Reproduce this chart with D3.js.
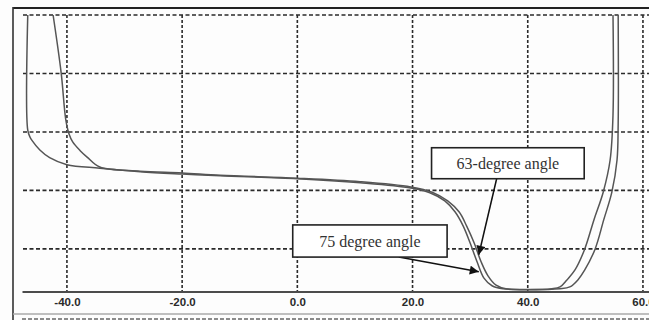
<!DOCTYPE html>
<html>
<head>
<meta charset="utf-8">
<script src="https://cdn.jsdelivr.net/npm/d3@7/dist/d3.min.js"></script>
<style>
  html, body { margin: 0; padding: 0; background: #fff; }
  svg { display: block; }
</style>
</head>
<body>
<svg id="chart" width="649" height="320"></svg>
<script>
// ---- data ----
const xTicks = [-40, -20, 0, 20, 40, 60];
const xTickLabels = ["-40.0", "-20.0", "0.0", "20.0", "40.0", "60.0"];
const yGrid = [0, 10, 20, 30, 40];

// wide curve (outer on both sides)
const wideX = [-46.8, -46.8, -46.4, -46.1, -44.7, -43.0, -40.0, -34.3, -27.3, -20.0, -13.4, 0.0, 10.9, 19.7, 23.0, 25.6, 27.4, 28.8, 30.0, 31.2, 32.4, 33.8, 35.7, 45.6, 47.3, 48.7, 49.9, 51.7, 53.2, 54.6, 55.5, 55.7, 55.7];
const wideY = [40, 20.3, 19.1, 18.6, 16.9, 15.6, 14.4, 13.8, 13.2, 12.8, 12.5, 12.0, 11.3, 10.4, 9.6, 8.2, 6.3, 3.9, 1.0, -2.2, -5.0, -6.3, -6.8, -6.8, -6.5, -5.3, -3.6, 0.0, 5.0, 9.7, 15.2, 21.5, 40];

// narrow curve
const narrowX = [-42.4, -41.0, -40.2, -39.65, -39.0, -37.7, -36.5, -34.3, -27.3, -20.0, -13.4, 0.0, 10.9, 19.7, 23.4, 26.1, 28.1, 29.4, 30.7, 31.9, 33.1, 34.5, 36.2, 44.2, 45.6, 46.8, 48.2, 49.9, 51.5, 53.1, 54.3, 54.8, 54.8];
const narrowY = [40, 30.1, 22.1, 19.7, 18.3, 16.8, 15.7, 14.0, 13.3, 13.0, 12.6, 12.1, 11.5, 10.6, 9.7, 8.2, 6.3, 3.9, 1.0, -2.2, -4.6, -6.2, -6.8, -6.8, -6.5, -5.3, -3.6, 0.0, 5.0, 9.7, 15.2, 22.9, 40];

// annotations: label, box corners (data units), arrow start & tip (data units)
const annoLabels = ["63-degree angle", "75 degree angle"];
const annoBoxX0 = [23.3, -0.8];
const annoBoxX1 = [49.8, 26.0];
const annoBoxY0 = [17.3, 4.1];
const annoBoxY1 = [12.0, -1.4];
const annoArrowX0 = [34.6, 17.6];
const annoArrowY0 = [12.0, -1.4];
const annoArrowX1 = [31.5, 31.5];
const annoArrowY1 = [-1.0, -3.9];

// ---- drawing ----
const svg = d3.select("#chart");
const W = 649, H = 320;

const x = d3.scaleLinear().domain([-47.8, 61.05]).range([22, 649]);
const y = d3.scaleLinear().domain([-7.2, 40]).range([291, 15]);

svg.append("rect").attr("width", W).attr("height", H).attr("fill", "#fdfdfd");

// frame
svg.append("line").attr("x1", 13).attr("x2", W).attr("y1", 8).attr("y2", 8)
  .attr("stroke", "#222").attr("stroke-width", 2.2);
svg.append("line").attr("x1", 13).attr("x2", 13).attr("y1", 7).attr("y2", H)
  .attr("stroke", "#333").attr("stroke-width", 1.6);
svg.append("line").attr("x1", 13).attr("x2", W).attr("y1", 314).attr("y2", 314)
  .attr("stroke", "#aaa").attr("stroke-width", 1.4);
svg.append("line").attr("x1", 22).attr("x2", W).attr("y1", 319).attr("y2", 319)
  .attr("stroke", "#666").attr("stroke-width", 1.4).attr("stroke-dasharray", "4,2");

// grid
svg.append("g").selectAll("line").data(yGrid).join("line")
  .attr("x1", 23).attr("x2", W)
  .attr("y1", d => y(d)).attr("y2", d => y(d))
  .attr("stroke", "#2a2a2a").attr("stroke-width", 1.6).attr("stroke-dasharray", "4,2.5");
svg.append("g").selectAll("line").data(xTicks).join("line")
  .attr("x1", d => x(d)).attr("x2", d => x(d))
  .attr("y1", y(40)).attr("y2", y(-7.2))
  .attr("stroke", "#2a2a2a").attr("stroke-width", 1.6).attr("stroke-dasharray", "3,2");

// axis
const axis = d3.axisBottom(x).tickValues(xTicks)
  .tickFormat((d, i) => xTickLabels[i]).tickSize(0).tickSizeOuter(0).tickPadding(6);
const gAxis = svg.append("g").attr("transform", "translate(0,291.5)").call(axis);
gAxis.select(".domain").attr("stroke", "#111").attr("stroke-width", 1.6);
gAxis.selectAll("text").attr("font-family", "Liberation Sans, Arial, sans-serif")
  .attr("font-size", 11.5).attr("font-weight", "bold").attr("fill", "#2a2a2a");

// curves
const line = d3.line().x(d => x(d[0])).y(d => y(d[1])).curve(d3.curveCatmullRom.alpha(0.5));
const wide = wideX.map((v, i) => [v, wideY[i]]);
const narrow = narrowX.map((v, i) => [v, narrowY[i]]);
[wide, narrow].forEach(s => {
  svg.append("path").attr("d", line(s)).attr("fill", "none")
    .attr("stroke", "#555").attr("stroke-width", 1.5);
});

// arrows
const defs = svg.append("defs");
defs.append("marker").attr("id", "ah").attr("viewBox", "0 0 10 10")
  .attr("refX", 10).attr("refY", 5).attr("markerWidth", 11).attr("markerHeight", 9)
  .attr("markerUnits", "userSpaceOnUse").attr("orient", "auto")
  .append("path").attr("d", "M0,0 L10,5 L0,10 Z").attr("fill", "#111");

annoLabels.forEach((lab, i) => {
  svg.append("line")
    .attr("x1", x(annoArrowX0[i])).attr("y1", y(annoArrowY0[i]))
    .attr("x2", x(annoArrowX1[i])).attr("y2", y(annoArrowY1[i]))
    .attr("stroke", "#111").attr("stroke-width", 1.5).attr("marker-end", "url(#ah)");
});
annoLabels.forEach((lab, i) => {
  const bx0 = x(annoBoxX0[i]), bx1 = x(annoBoxX1[i]);
  const by0 = y(annoBoxY0[i]), by1 = y(annoBoxY1[i]);
  svg.append("rect").attr("x", bx0).attr("y", by0)
    .attr("width", bx1 - bx0).attr("height", by1 - by0)
    .attr("fill", "#fff").attr("stroke", "#222").attr("stroke-width", 1.6);
  svg.append("text").attr("x", (bx0 + bx1) / 2).attr("y", (by0 + by1) / 2 + 5.5)
    .attr("text-anchor", "middle")
    .attr("font-family", "Liberation Serif, Times New Roman, serif")
    .attr("font-size", 16).attr("fill", "#333").text(lab);
});
</script>
</body>
</html>
